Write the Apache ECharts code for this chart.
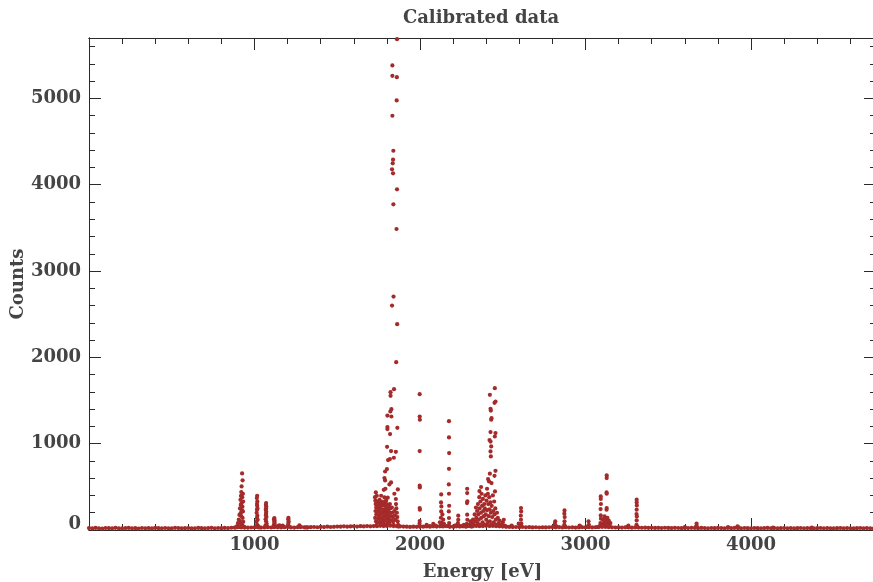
<!DOCTYPE html>
<html>
<head>
<meta charset="utf-8">
<script src="https://cdn.jsdelivr.net/npm/echarts@6/dist/echarts.min.js"></script>
<style>
  html, body { margin: 0; padding: 0; background: #fff; }
  #chart { width: 873px; height: 582px; }
</style>
</head>
<body>
<div id="chart"></div>
<script>
// Calibrated spectrum: [energy (eV), counts]

// Continuum / noise floor across the whole energy range
const baseline = [
  [0,22],[20,18],[40,24],[60,20],[80,17],[100,23],[120,21],[140,19],[160,25],[180,20],
  [200,18],[220,22],[240,24],[260,19],[280,21],[300,17],[320,23],[340,20],[360,22],[380,18],
  [400,24],[420,21],[440,19],[460,23],[480,20],[500,18],[520,25],[540,22],[560,19],[580,21],
  [600,23],[620,18],[640,20],[660,24],[680,21],[700,19],[720,22],[740,25],[760,20],[780,23],
  [800,21],[820,24],[840,22],[860,26],[880,28],[900,32],[920,30],[940,34],[960,27],[980,29],
  [1000,31],[1020,33],[1040,28],[1060,30],[1080,32],[1100,29],[1120,34],[1140,31],[1160,30],[1180,33],
  [1200,35],[1220,30],[1240,28],[1260,32],[1280,34],[1300,31],[1320,29],[1340,33],[1360,35],[1380,32],
  [1400,36],[1420,34],[1440,38],[1460,35],[1480,37],[1500,40],[1520,38],[1540,42],[1560,39],[1580,41],
  [1600,43],[1620,40],[1640,44],[1660,41],[1680,45],[1700,42],[1720,46],[1740,44],[1760,48],[1780,45],
  [1800,47],[1820,50],[1840,46],[1860,44],[1880,42],[1900,40],[1920,38],[1940,36],[1960,39],[1980,37],
  [2000,40],[2020,38],[2040,41],[2060,39],[2080,42],[2100,40],[2120,43],[2140,41],[2160,44],[2180,40],
  [2200,38],[2220,42],[2240,40],[2260,43],[2280,41],[2300,45],[2320,43],[2340,47],[2360,44],[2380,46],
  [2400,48],[2420,45],[2440,47],[2460,44],[2480,42],[2500,40],[2520,38],[2540,36],[2560,34],[2580,35],
  [2600,33],[2620,35],[2640,31],[2660,33],[2680,30],[2700,32],[2720,29],[2740,31],[2760,30],[2780,32],
  [2800,34],[2820,31],[2840,33],[2860,30],[2880,32],[2900,29],[2920,31],[2940,28],[2960,30],[2980,32],
  [3000,31],[3020,33],[3040,30],[3060,32],[3080,34],[3100,36],[3120,35],[3140,33],[3160,31],[3180,29],
  [3200,30],[3220,28],[3240,31],[3260,29],[3280,27],[3300,30],[3320,28],[3340,26],[3360,27],[3380,25],
  [3400,26],[3420,24],[3440,25],[3460,23],[3480,26],[3500,24],[3520,22],[3540,25],[3560,23],[3580,21],
  [3600,24],[3620,22],[3640,25],[3660,23],[3680,21],[3700,24],[3720,22],[3740,20],[3760,23],[3780,21],
  [3800,24],[3820,22],[3840,20],[3860,23],[3880,21],[3900,24],[3920,22],[3940,19],[3960,23],[3980,21],
  [4000,20],[4020,23],[4040,21],[4060,19],[4080,22],[4100,24],[4120,20],[4140,22],[4160,19],[4180,21],
  [4200,23],[4220,20],[4240,22],[4260,18],[4280,21],[4300,23],[4320,19],[4340,22],[4360,20],[4380,18],
  [4400,21],[4420,23],[4440,19],[4460,22],[4480,20],[4500,18],[4520,21],[4540,23],[4560,19],[4580,22],
  [4600,20],[4620,18],[4640,21],[4660,23],[4680,19],[4700,22],[4720,20],[4740,18],[4760,21]
];

// Lines between 880 and 1330 eV
const lowPeaks = [
  [925,655],[928,575],[922,505],[920,440],[930,420],[918,395],[926,380],[915,350],[931,330],[921,310],
  [917,290],[927,270],[912,250],[924,230],[930,215],[916,195],[909,175],[920,160],[928,140],[905,120],
  [913,100],[932,95],[900,80],[918,70],[926,55],[895,45],[910,35],[935,40],[940,28],[888,30],
  [1016,397],[1014,370],[1017,331],[1015,300],[1016,281],[1018,250],[1015,235],[1013,200],[1017,166],[1015,140],
  [1019,119],[1012,95],[1016,61],[1022,45],[1008,35],[1028,30],
  [1070,312],[1069,290],[1071,273],[1070,250],[1068,235],[1071,210],[1070,189],[1069,170],[1072,150],[1067,125],
  [1070,100],[1073,75],[1066,50],[1078,40],
  [1120,139],[1118,125],[1121,111],[1119,95],[1122,81],[1117,60],[1125,42],[1113,35],
  [1140,45],[1150,55],[1160,40],[1170,50],[1180,35],
  [1205,142],[1204,125],[1206,100],[1205,80],[1203,61],[1208,40],
  [1271,53],[1265,35],[1278,40],[1310,30],[1320,32]
];

// Strongest group, 1720-1870 eV
const mainPeak = [
  [1861,5686],[1833,5382],[1833,5262],[1860,5246],[1859,4977],[1833,4799],[1839,4394],[1837,4290],[1835,4248],[1831,4178],
  [1837,4132],[1861,3947],[1839,3773],[1858,3487],[1840,2704],[1831,2600],[1862,2384],[1856,1944],[1843,1632],[1822,1597],
  [1822,1554],[1827,1400],[1821,1373],[1803,1326],[1827,1315],[1803,1192],[1803,1169],[1863,1184],[1819,1111],[1801,964],
  [1825,914],[1854,906],[1842,837],[1818,822],[1807,810],[1800,706],[1789,678],[1785,602],[1789,574],[1825,551],
  [1815,528],[1791,478],[1781,466],[1866,470],[1845,420],[1733,435],[1739,397],[1765,397],[1785,377],[1805,374],
  [1854,359],
  [1728,380],[1730,340],[1732,300],[1735,260],[1731,220],[1736,180],[1729,140],[1734,100],[1738,60],[1742,330],
  [1745,290],[1748,250],[1744,210],[1750,170],[1747,130],[1752,90],[1755,350],[1758,310],[1760,270],[1756,230],
  [1762,190],[1759,150],[1765,110],[1768,70],[1770,330],[1772,290],[1775,240],[1771,200],[1778,160],[1774,120],
  [1780,80],[1782,320],[1786,280],[1784,230],[1788,190],[1790,150],[1785,110],[1792,60],[1795,340],[1798,300],
  [1796,250],[1800,210],[1802,170],[1799,130],[1805,90],[1808,280],[1810,240],[1812,200],[1807,160],[1814,120],
  [1816,80],[1818,300],[1820,250],[1822,200],[1824,160],[1826,110],[1830,260],[1832,200],[1835,150],[1838,100],
  [1840,60],[1845,220],[1848,170],[1850,120],[1855,300],[1857,250],[1860,200],[1863,150],[1865,100],[1868,60],
  [1870,40]
];

// Lines between 1990 and 2530 eV
const midPeaks = [
  [1998,1574],[1998,1315],[1999,1277],[1998,914],[1998,513],[1999,493],[1998,255],[1999,235],[1998,104],[1997,73],
  [2000,40],[2040,60],[2060,45],[2080,70],[2095,50],
  [2128,412],[2127,319],[2129,273],[2128,215],[2126,142],[2130,84],[2124,50],[2133,45],
  [2135,180],[2140,120],[2120,90],[2145,70],
  [2175,1261],[2175,1072],[2176,891],[2175,709],[2174,528],[2175,420],[2176,281],[2174,215],[2175,139],[2176,81],
  [2172,45],[2180,40],
  [2205,40],[2215,55],[2231,166],[2231,119],[2229,80],[2234,50],[2250,45],[2265,60],[2275,40],
  [2285,478],[2285,428],[2286,331],[2284,312],[2285,177],[2286,119],[2283,70],[2288,45],
  [2452,1643],[2422,1566],[2456,1488],[2450,1473],[2426,1404],[2428,1384],[2432,1296],[2430,1277],[2426,1134],[2456,1123],
  [2452,1083],[2420,1042],[2426,1025],[2430,968],[2426,910],[2428,852],[2422,652],[2456,686],[2450,628],[2411,590],
  [2417,563],[2432,544],[2369,498],[2405,478],[2453,447],[2359,451],
  [2300,60],[2305,100],[2310,40],[2315,80],[2320,120],[2325,60],[2330,180],[2335,100],[2338,260],[2340,140],
  [2345,220],[2348,80],[2350,300],[2352,180],[2355,120],[2358,380],[2360,250],[2362,60],[2365,330],[2368,200],
  [2370,140],[2372,420],[2375,280],[2378,90],[2380,360],[2382,220],[2385,160],[2388,300],[2390,60],[2392,250],
  [2395,400],[2397,180],[2400,120],[2402,340],[2405,230],[2408,80],[2410,420],[2412,300],[2415,160],[2418,380],
  [2420,240],[2422,100],[2425,320],[2428,200],[2430,60],[2433,280],[2436,150],[2440,400],[2442,220],[2445,90],
  [2448,330],[2450,180],[2455,250],[2458,120],[2460,60],[2465,200],[2470,140],[2475,80],[2480,110],[2490,60],
  [2500,90],[2506,119],[2510,50],[2520,40]
];

// Lines above 2550 eV
const highPeaks = [
  [2554,50],[2596,73],
  [2610,255],[2611,215],[2609,166],[2610,119],[2612,73],[2606,45],
  [2817,100],[2815,73],[2822,45],[2808,40],
  [2873,227],[2872,189],[2874,150],[2873,100],[2872,61],[2878,40],
  [2964,50],[2968,42],[3018,100],[3020,61],[3012,40],
  [3092,389],[3092,359],[3093,301],[3091,243],[3092,169],[3093,131],[3090,81],
  [3128,632],[3128,602],[3127,435],[3128,420],[3128,255],[3127,235],
  [3105,120],[3110,80],[3115,157],[3118,100],[3120,60],[3122,130],[3125,90],[3132,140],[3135,70],[3140,110],
  [3145,50],[3150,80],[3100,60],[3085,45],[3070,35],
  [3259,50],[3250,35],
  [3309,351],[3309,319],[3310,285],[3309,235],[3308,185],[3310,157],[3309,111],[3308,61],[3312,40],
  [3600,35],[3671,73],[3672,42],[3665,35],[3861,35],[3918,42],[3925,30],[4133,27],[4367,27]
];

// Axis settings
const xRange = [0, 4755];
const yRange = [0, 5700];
const xMajor = 1000, xMinor = 200;
const yMajor = 1000, yMinor = 200;

const FONT = 'DejaVu Serif';
const FSIZE = 18;
const TEXT = '#444';
const AXIS = '#2a2a2a';
const MARK = '#a52a2a';

function xAxisCfg(position, interval, tickLen, labels) {
  return {
    type: 'value', position, min: xRange[0], max: xRange[1], interval,
    axisLine: { show: true, onZero: false, lineStyle: { color: AXIS, width: 1 } },
    axisTick: { show: true, inside: true, length: tickLen, lineStyle: { color: AXIS, width: 1 } },
    axisLabel: labels ? {
      show: true, margin: 6, color: TEXT, fontFamily: FONT, fontWeight: 'bold', fontSize: FSIZE,
      showMinLabel: false, showMaxLabel: false,
      formatter: v => (v > 0 && v % xMajor === 0) ? String(v) : ''
    } : { show: false },
    splitLine: { show: false }
  };
}

function yAxisCfg(position, interval, tickLen, labels) {
  return {
    type: 'value', position, min: yRange[0], max: yRange[1], interval,
    axisLine: { show: true, onZero: false, lineStyle: { color: AXIS, width: 1 } },
    axisTick: { show: true, inside: true, length: tickLen, lineStyle: { color: AXIS, width: 1 } },
    axisLabel: labels ? {
      show: true, margin: 8, color: TEXT, fontFamily: FONT, fontWeight: 'bold', fontSize: FSIZE,
      showMaxLabel: false,
      formatter: v => v === 0 ? '{z|0}' : (v % yMajor === 0 ? String(v) : ''),
      rich: { z: { padding: [0, 0, 12, 0], color: TEXT, fontFamily: FONT, fontWeight: 'bold', fontSize: FSIZE } }
    } : { show: false },
    splitLine: { show: false }
  };
}

const nameStyle = { color: TEXT, fontFamily: FONT, fontWeight: 'bold', fontSize: FSIZE };

const xBottom = xAxisCfg('bottom', xMajor, 12, true);
xBottom.name = 'Energy [eV]';
xBottom.nameLocation = 'middle';
xBottom.nameGap = 33;
xBottom.nameMoveOverlap = false;
xBottom.nameTextStyle = nameStyle;

const yLeft = yAxisCfg('left', yMajor, 12, true);
yLeft.name = 'Counts';
yLeft.nameLocation = 'middle';
yLeft.nameGap = 62;
yLeft.nameMoveOverlap = false;
yLeft.nameTextStyle = nameStyle;

const chart = echarts.init(document.getElementById('chart'), null, { renderer: 'canvas' });
chart.setOption({
  animation: false,
  backgroundColor: '#fff',
  graphic: [{
    type: 'text', x: 481, y: 18,
    style: {
      text: 'Calibrated data', fill: TEXT, font: 'bold ' + FSIZE + 'px "' + FONT + '"',
      textAlign: 'center', textVerticalAlign: 'middle'
    }
  }],
  grid: { left: 89, top: 38, width: 787, height: 492, containLabel: false, outerBoundsMode: 'none' },
  xAxis: [
    xBottom,
    xAxisCfg('top', xMajor, 12, false),
    xAxisCfg('bottom', xMinor, 6, false),
    xAxisCfg('top', xMinor, 6, false)
  ],
  yAxis: [
    yLeft,
    yAxisCfg('right', yMajor, 12, false),
    yAxisCfg('left', yMinor, 6, false),
    yAxisCfg('right', yMinor, 6, false)
  ],
  series: [baseline, lowPeaks, mainPeak, midPeaks, highPeaks].map(d => ({
    type: 'scatter', xAxisIndex: 0, yAxisIndex: 0, data: d,
    symbol: 'circle', symbolSize: 4.2, clip: false,
    itemStyle: { color: MARK, opacity: 1 }
  }))
});
</script>
</body>
</html>
